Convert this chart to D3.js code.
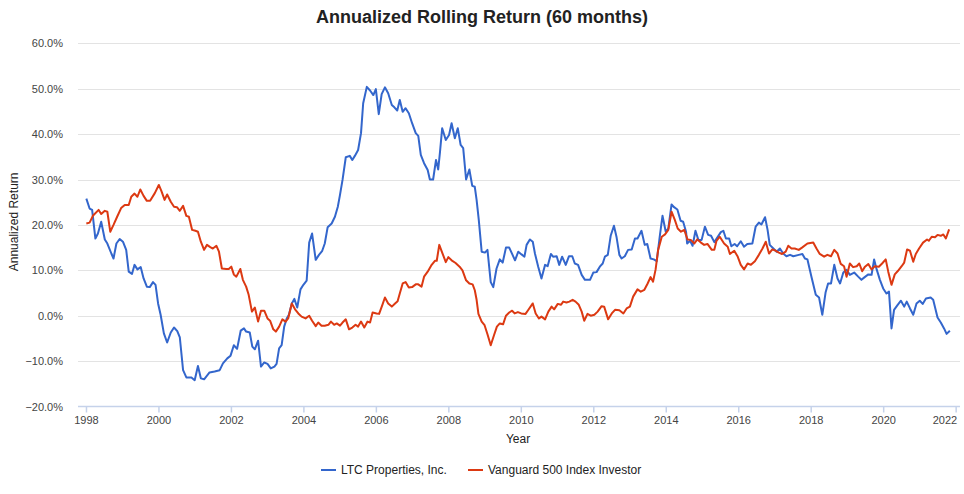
<!DOCTYPE html>
<html>
<head>
  <meta charset="utf-8">
  <title>Annualized Rolling Return</title>
  <style type="text/css">
    body { margin: 0; background: #fff; }
    svg { display: block; font-family: "Liberation Sans", Arial, sans-serif; }
    .grid line { stroke: #e3e3e3; stroke-width: 1px; }
    .axis text { font-size: 11px; fill: #444; }
    .xaxis .domain, .xaxis .tick line { stroke: #c5d2ea; stroke-width: 1.5px; }
    .series { fill: none; stroke-width: 2px; stroke-linejoin: round; }
  </style>
  <script src="https://cdn.jsdelivr.net/npm/d3@7/dist/d3.min.js"></script>
</head>
<body>
<script>
  // series names and colours
  var seriesNames = ['LTC Properties, Inc.', 'Vanguard 500 Index Investor'];
  var seriesColors = ['#3366cc', '#dc3912'];

  // LTC Properties: [year, annualized return %]
  var ltc = [
    [1998.01,25.8],[1998.10,23.6],[1998.17,23.3],[1998.26,17.0],[1998.33,18.1],[1998.42,20.7],[1998.52,16.8],[1998.59,15.9],
    [1998.70,13.7],[1998.76,12.6],[1998.84,15.9],[1998.93,16.9],[1999.02,16.3],[1999.11,14.5],[1999.18,9.7],[1999.27,9.2],
    [1999.34,11.2],[1999.42,10.2],[1999.51,10.7],[1999.59,8.2],[1999.68,6.4],[1999.76,6.3],[1999.85,7.4],[1999.92,6.8],
    [1999.99,2.7],[2000.06,0.2],[2000.15,-3.9],[2000.24,-5.9],[2000.34,-3.7],[2000.43,-2.6],[2000.52,-3.4],[2000.59,-4.8],
    [2000.68,-12.0],[2000.77,-13.6],[2000.91,-13.6],[2001.00,-14.2],[2001.09,-11.1],[2001.17,-13.8],[2001.26,-14.0],[2001.41,-12.5],
    [2001.55,-12.3],[2001.69,-12.0],[2001.78,-10.5],[2001.90,-9.4],[2001.99,-8.8],[2002.08,-6.5],[2002.17,-7.3],[2002.27,-3.3],
    [2002.36,-2.8],[2002.42,-3.5],[2002.52,-3.7],[2002.59,-6.8],[2002.66,-7.4],[2002.75,-5.5],[2002.83,-11.2],[2002.92,-10.3],
    [2003.01,-10.6],[2003.10,-11.6],[2003.20,-11.2],[2003.26,-10.6],[2003.33,-7.2],[2003.40,-6.5],[2003.47,-2.4],[2003.54,-0.6],
    [2003.60,0.2],[2003.68,2.7],[2003.75,3.7],[2003.83,1.8],[2003.92,5.8],[2004.00,6.8],[2004.09,7.7],[2004.16,16.1],
    [2004.24,18.1],[2004.34,12.3],[2004.43,13.4],[2004.52,14.3],[2004.59,15.9],[2004.67,19.5],[2004.78,20.3],[2004.87,21.8],
    [2004.95,24.0],[2005.01,26.6],[2005.08,29.9],[2005.17,34.9],[2005.28,35.2],[2005.35,34.3],[2005.42,35.2],[2005.51,36.5],
    [2005.59,40.2],[2005.65,46.8],[2005.75,50.4],[2005.84,49.6],[2005.93,48.6],[2006.00,49.9],[2006.08,44.4],[2006.16,48.8],
    [2006.25,50.3],[2006.34,49.0],[2006.44,46.4],[2006.51,45.9],[2006.59,45.2],[2006.66,47.5],[2006.74,44.9],[2006.82,45.7],
    [2006.91,44.6],[2007.00,42.4],[2007.10,40.2],[2007.17,39.6],[2007.24,35.4],[2007.33,33.6],[2007.43,32.1],[2007.49,30.0],
    [2007.58,30.0],[2007.66,34.3],[2007.72,32.2],[2007.77,36.1],[2007.83,41.3],[2007.93,38.7],[2008.02,39.8],[2008.09,42.4],
    [2008.18,39.1],[2008.26,41.3],[2008.34,37.6],[2008.41,36.9],[2008.49,30.0],[2008.58,32.2],[2008.66,28.6],[2008.73,28.4],
    [2008.78,25.5],[2008.84,21.1],[2008.92,14.1],[2009.01,13.9],[2009.08,14.5],[2009.17,7.4],[2009.24,6.3],[2009.33,10.4],
    [2009.42,12.4],[2009.50,11.7],[2009.59,15.0],[2009.68,15.0],[2009.76,13.6],[2009.84,12.2],[2009.93,14.1],[2010.02,13.5],
    [2010.10,13.0],[2010.16,15.6],[2010.25,16.8],[2010.33,16.3],[2010.39,13.7],[2010.48,10.8],[2010.57,8.2],[2010.67,11.2],
    [2010.74,10.9],[2010.83,13.6],[2010.89,13.0],[2010.99,13.1],[2011.06,11.2],[2011.14,13.0],[2011.24,11.2],[2011.33,13.1],
    [2011.42,13.1],[2011.49,11.5],[2011.58,11.2],[2011.68,9.0],[2011.77,7.9],[2011.91,7.9],[2012.00,9.5],[2012.09,9.6],
    [2012.18,10.8],[2012.26,11.5],[2012.32,13.0],[2012.40,13.4],[2012.48,17.6],[2012.57,19.8],[2012.64,17.4],[2012.72,13.4],
    [2012.78,12.6],[2012.87,13.1],[2012.96,14.5],[2013.06,14.6],[2013.15,17.0],[2013.22,17.0],[2013.33,18.7],[2013.42,15.6],
    [2013.49,15.8],[2013.58,12.6],[2013.67,12.4],[2013.75,12.0],[2013.84,17.8],[2013.91,22.0],[2014.00,18.5],[2014.07,19.2],
    [2014.16,24.5],[2014.23,23.9],[2014.32,23.4],[2014.41,20.9],[2014.48,20.7],[2014.56,18.5],[2014.59,15.9],[2014.67,16.5],
    [2014.74,15.4],[2014.82,18.7],[2014.90,16.7],[2014.99,16.7],[2015.08,19.6],[2015.17,17.8],[2015.25,17.6],[2015.34,16.2],
    [2015.43,17.3],[2015.52,18.4],[2015.59,18.7],[2015.66,17.0],[2015.75,17.0],[2015.81,15.3],[2015.90,15.8],[2015.97,15.3],
    [2016.07,16.4],[2016.16,15.2],[2016.25,15.8],[2016.39,15.9],[2016.48,19.6],[2016.57,20.5],[2016.64,20.1],[2016.74,21.7],
    [2016.81,18.9],[2016.87,15.6],[2016.97,14.8],[2017.06,14.1],[2017.15,14.8],[2017.24,13.7],[2017.33,13.1],[2017.43,13.4],
    [2017.52,13.1],[2017.67,13.4],[2017.77,13.6],[2017.84,12.6],[2017.91,12.4],[2018.02,8.6],[2018.14,4.6],[2018.23,4.0],
    [2018.32,0.2],[2018.41,5.1],[2018.48,7.1],[2018.56,7.1],[2018.65,11.2],[2018.74,8.2],[2018.81,7.1],[2018.90,9.5],
    [2018.99,10.1],[2019.08,9.0],[2019.20,9.5],[2019.31,8.6],[2019.40,7.9],[2019.49,8.5],[2019.59,9.1],[2019.68,9.0],
    [2019.75,12.4],[2019.82,10.2],[2019.91,7.9],[2020.00,6.0],[2020.09,4.9],[2020.16,5.3],[2020.23,-2.8],[2020.30,1.3],
    [2020.40,2.4],[2020.49,3.3],[2020.58,2.0],[2020.65,3.1],[2020.74,1.6],[2020.83,0.2],[2020.92,2.7],[2021.01,3.3],
    [2021.09,2.6],[2021.18,3.8],[2021.31,4.0],[2021.38,3.5],[2021.50,-0.4],[2021.59,-1.5],[2021.68,-2.8],[2021.75,-4.0],
    [2021.84,-3.3]
  ];

  // Vanguard 500 Index Investor: [year, annualized return %]
  var vfinx = [
    [1998.01,20.3],[1998.10,20.5],[1998.19,22.0],[1998.35,23.3],[1998.42,22.4],[1998.52,23.1],[1998.59,22.9],[1998.67,18.5],
    [1998.76,20.0],[1998.86,21.8],[1998.97,23.7],[1999.07,24.4],[1999.18,24.4],[1999.25,26.2],[1999.34,26.9],[1999.42,26.2],
    [1999.50,27.8],[1999.59,26.4],[1999.68,25.3],[1999.77,25.3],[1999.90,27.0],[2000.01,28.8],[2000.08,27.5],[2000.17,25.5],
    [2000.24,26.7],[2000.34,25.1],[2000.43,24.0],[2000.51,23.9],[2000.59,23.1],[2000.68,24.2],[2000.77,22.0],[2000.84,21.8],
    [2000.93,18.9],[2001.02,18.7],[2001.09,18.5],[2001.17,16.3],[2001.26,14.5],[2001.34,15.6],[2001.43,15.1],[2001.50,14.8],
    [2001.60,15.4],[2001.67,14.1],[2001.75,10.4],[2001.87,10.3],[2001.94,10.3],[2002.01,10.8],[2002.08,9.1],[2002.15,8.6],
    [2002.26,10.3],[2002.33,7.9],[2002.42,6.4],[2002.49,4.6],[2002.58,0.9],[2002.66,1.8],[2002.75,-1.3],[2002.83,1.1],
    [2002.92,1.1],[2003.01,-0.6],[2003.08,-1.1],[2003.17,-3.0],[2003.24,-3.5],[2003.33,-2.4],[2003.42,-0.8],[2003.51,-1.3],
    [2003.58,-0.6],[2003.68,2.7],[2003.77,1.4],[2003.86,0.5],[2003.95,-0.2],[2004.06,-0.6],[2004.16,0.0],[2004.24,-1.1],
    [2004.34,-2.3],[2004.41,-1.5],[2004.50,-2.2],[2004.59,-2.2],[2004.69,-2.0],[2004.76,-1.3],[2004.85,-2.0],[2004.92,-1.7],
    [2005.01,-2.2],[2005.08,-1.5],[2005.17,-0.8],[2005.26,-3.0],[2005.35,-2.6],[2005.44,-2.0],[2005.51,-2.4],[2005.59,-1.3],
    [2005.68,-2.6],[2005.77,-1.3],[2005.84,-1.5],[2005.91,0.7],[2006.02,0.5],[2006.09,0.4],[2006.18,2.4],[2006.25,4.0],
    [2006.34,2.7],[2006.44,2.0],[2006.53,2.7],[2006.60,3.2],[2006.66,4.9],[2006.74,7.1],[2006.82,7.4],[2006.91,6.2],
    [2007.00,6.3],[2007.10,6.9],[2007.17,6.9],[2007.26,6.4],[2007.33,8.6],[2007.43,9.7],[2007.54,11.2],[2007.63,12.1],
    [2007.68,12.1],[2007.75,15.6],[2007.83,13.9],[2007.93,11.8],[2008.00,12.9],[2008.09,12.2],[2008.20,11.6],[2008.31,10.8],
    [2008.39,10.0],[2008.49,7.8],[2008.58,7.1],[2008.67,6.9],[2008.73,5.6],[2008.78,3.5],[2008.83,0.4],[2008.92,-1.3],
    [2009.00,-2.1],[2009.08,-4.1],[2009.17,-6.5],[2009.26,-4.3],[2009.34,-2.4],[2009.42,-1.7],[2009.51,-1.9],[2009.59,0.0],
    [2009.68,0.7],[2009.76,1.1],[2009.83,0.5],[2009.92,0.8],[2010.01,0.5],[2010.13,0.4],[2010.20,1.2],[2010.33,2.7],
    [2010.41,0.5],[2010.50,-0.6],[2010.57,-0.2],[2010.67,-0.8],[2010.76,0.9],[2010.85,2.0],[2010.92,1.4],[2011.02,2.6],
    [2011.11,2.4],[2011.17,3.1],[2011.26,2.9],[2011.34,3.1],[2011.43,3.5],[2011.51,3.1],[2011.60,2.4],[2011.68,0.9],
    [2011.75,-1.1],[2011.84,0.4],[2011.93,0.0],[2012.03,0.2],[2012.12,0.9],[2012.23,2.1],[2012.30,2.0],[2012.41,-0.8],
    [2012.51,0.5],[2012.60,1.3],[2012.72,1.2],[2012.83,0.5],[2012.92,1.6],[2013.01,2.0],[2013.10,4.2],[2013.22,5.8],
    [2013.31,5.3],[2013.41,5.7],[2013.50,7.1],[2013.58,8.5],[2013.65,7.5],[2013.72,10.2],[2013.79,14.5],[2013.89,17.4],
    [2013.98,17.9],[2014.07,18.9],[2014.16,22.9],[2014.25,21.1],[2014.33,19.2],[2014.42,18.5],[2014.51,18.9],[2014.60,16.8],
    [2014.69,16.7],[2014.79,15.9],[2014.87,16.8],[2014.97,16.1],[2015.06,15.6],[2015.15,15.8],[2015.27,14.5],[2015.34,14.5],
    [2015.40,16.5],[2015.49,17.4],[2015.61,15.9],[2015.71,15.2],[2015.77,13.6],[2015.89,14.3],[2015.98,13.1],[2016.07,11.2],
    [2016.16,10.2],[2016.26,11.5],[2016.35,11.2],[2016.46,12.0],[2016.57,13.4],[2016.67,14.8],[2016.76,16.3],[2016.85,13.7],
    [2016.94,14.6],[2017.04,14.3],[2017.12,13.9],[2017.21,13.6],[2017.31,14.1],[2017.38,15.4],[2017.47,14.8],[2017.56,14.8],
    [2017.67,14.5],[2017.76,15.0],[2017.91,15.9],[2018.07,16.1],[2018.16,14.8],[2018.25,13.6],[2018.37,13.0],[2018.46,13.4],
    [2018.56,13.1],[2018.65,14.5],[2018.74,13.7],[2018.83,11.4],[2018.92,10.9],[2018.99,8.6],[2019.08,11.5],[2019.17,10.7],
    [2019.27,10.9],[2019.34,11.5],[2019.42,9.8],[2019.49,10.7],[2019.59,11.4],[2019.68,10.2],[2019.77,10.9],[2019.88,10.8],
    [2019.97,11.5],[2020.07,12.4],[2020.14,9.7],[2020.23,6.8],[2020.32,9.1],[2020.41,9.9],[2020.51,10.9],[2020.58,11.7],
    [2020.66,14.6],[2020.74,14.3],[2020.83,11.9],[2020.90,13.6],[2020.99,14.8],[2021.10,16.1],[2021.21,16.8],[2021.26,16.5],
    [2021.34,17.4],[2021.43,17.3],[2021.50,17.8],[2021.59,17.6],[2021.66,17.9],[2021.73,17.0],[2021.82,19.0]
  ];

  // axis ticks
  var yearTicks = [1998, 2000, 2002, 2004, 2006, 2008, 2010, 2012, 2014, 2016, 2018, 2020, 2022];
  var pctTicks = [-20, -10, 0, 10, 20, 30, 40, 50, 60];

  var W = 964, H = 494;
  var plotL = 78, plotR = 960, plotT = 43.3, plotB = 406.5;

  var svg = d3.select('body').append('svg')
    .attr('width', W).attr('height', H);

  var x = d3.scaleLinear().domain([1997.78, 2022.12]).range([plotL, plotR]);
  var y = d3.scaleLinear().domain([-20, 60]).range([plotB, plotT]);

  // title
  svg.append('text')
    .attr('x', W / 2).attr('y', 23)
    .attr('text-anchor', 'middle')
    .style('font-size', '18px').style('font-weight', 'bold').style('fill', '#222')
    .text('Annualized Rolling Return (60 months)');

  // horizontal gridlines
  svg.append('g').classed('grid', true)
    .selectAll('line')
    .data(pctTicks.filter(d => d > -20))
    .join('line')
    .attr('x1', plotL).attr('x2', plotR)
    .attr('y1', d => Math.round(y(d)) + 0.5).attr('y2', d => Math.round(y(d)) + 0.5);

  // y axis labels
  var yAxis = d3.axisLeft(y).tickValues(pctTicks).tickSize(0).tickPadding(15)
    .tickFormat(d => d3.format('.1f')(d) + '%');
  svg.append('g').classed('axis', true)
    .attr('transform', 'translate(' + plotL + ',0)')
    .call(yAxis)
    .call(g => g.select('.domain').remove());

  // x axis
  var xAxis = d3.axisBottom(x).tickValues(yearTicks).tickSize(6).tickPadding(4)
    .tickFormat(d3.format('d'));
  svg.append('g').classed('axis xaxis', true)
    .attr('transform', 'translate(0,' + plotB + ')')
    .call(xAxis)
    .call(g => g.select('.domain').attr('d', 'M' + plotL + ',0H' + plotR))
    .call(g => g.selectAll('.tick text').filter(d => d === 2022)
      .attr('text-anchor', 'end').attr('dx', '1'));

  // axis titles
  svg.append('text')
    .attr('transform', 'translate(18,' + ((plotT + plotB) / 2 - 3) + ') rotate(-90)')
    .attr('text-anchor', 'middle')
    .style('font-size', '12px').style('fill', '#222')
    .text('Annualized Return');

  svg.append('text')
    .attr('x', (plotL + plotR) / 2 - 1).attr('y', 443)
    .attr('text-anchor', 'middle')
    .style('font-size', '12px').style('fill', '#222')
    .text('Year');

  // lines
  var line = d3.line().x(d => x(d[0])).y(d => y(d[1]));
  var allSeries = [ltc, vfinx];
  svg.append('g')
    .selectAll('path')
    .data(allSeries)
    .join('path')
    .classed('series', true)
    .attr('stroke', (d, i) => seriesColors[i])
    .attr('d', line);

  // legend
  var legendX = [321, 468];
  var legend = svg.append('g')
    .selectAll('g')
    .data(seriesNames)
    .join('g')
    .attr('transform', (d, i) => 'translate(' + legendX[i] + ',470)');
  legend.append('line')
    .attr('x1', 0).attr('x2', 15)
    .attr('stroke', (d, i) => seriesColors[i]).attr('stroke-width', 2);
  legend.append('text')
    .attr('x', 20).attr('y', 4)
    .style('font-size', '12px').style('fill', '#222')
    .text(d => d);
</script>
</body>
</html>
